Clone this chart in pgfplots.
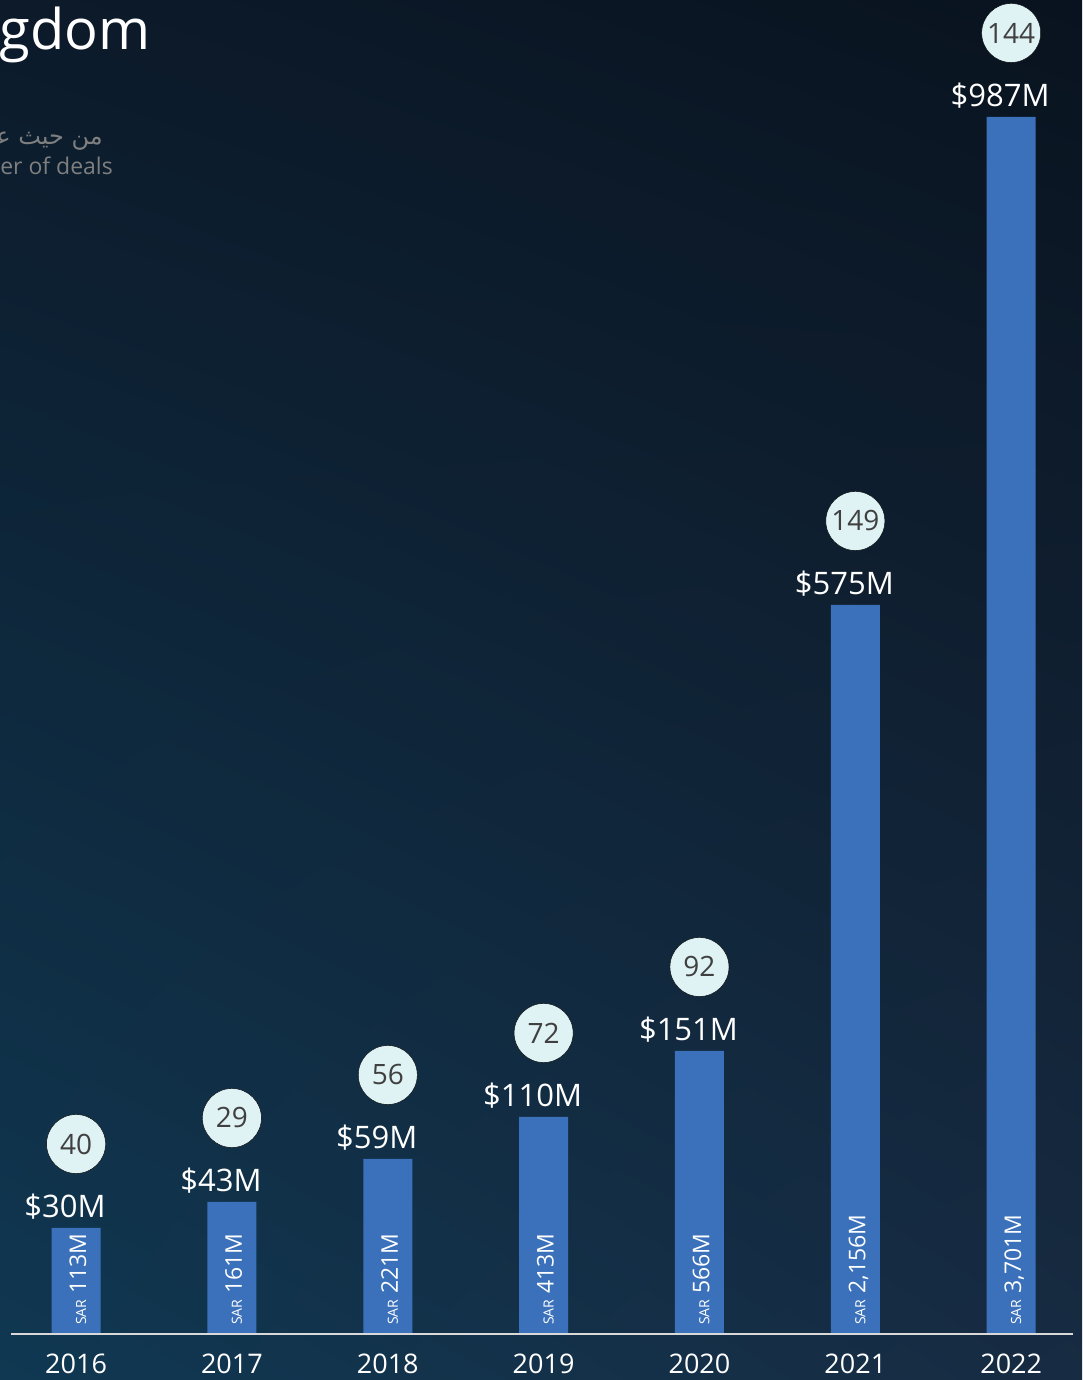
\documentclass[border=0pt]{standalone}
\usepackage{pgfplots}
\pgfplotsset{compat=1.18}
\usepackage{pgfplotstable}
\usetikzlibrary{shadings}
\usepackage{fontspec}
\setmainfont{Open Sans}
\newfontfamily\arabicfont[Script=Arabic]{DejaVu Sans}
\TeXXeTstate=1
\definecolor{barblue}{HTML}{3B71BB}
\definecolor{circ}{HTML}{DFF2F4}
\definecolor{circtext}{HTML}{404040}
\definecolor{textgray}{HTML}{7F7F7F}
\definecolor{linegray}{HTML}{D9D9D9}
\definecolor{bgUL}{HTML}{0C1A2A}
\definecolor{bgUR}{HTML}{09131F}
\definecolor{bgLL}{HTML}{103852}
\definecolor{bgLR}{HTML}{172B42}

\pgfplotstableread{
x h usd sar deals
0 106 30 113M 40
1 132 43 161M 29
2 175 59 221M 56
3 217 110 413M 72
4 283 151 566M 92
5 729 575 2,156M 149
6 1217 987 3,701M 144
}\data

\begin{document}
\begin{tikzpicture}
\shade[upper left=bgUL, upper right=bgUR, lower left=bgLL, lower right=bgLR] (0,-46pt) rectangle (1082pt,1334pt);
\begin{axis}[
  at={(0,0)}, anchor=south west,
  scale only axis, width=1082pt, height=1334pt,
  xmin=-0.488, xmax=6.4542, ymin=0, ymax=1334,
  clip=false,
  hide y axis,
  axis x line*=bottom,
  x axis line style={draw=none},
  xtick={0,1,2,3,4,5,6},
  xticklabels={2016,2017,2018,2019,2020,2021,2022},
  major tick length=0pt,
  xticklabel style={font=\fontsize{27}{27}\selectfont, text=white, anchor=base, yshift=-39pt, inner sep=0pt},
]
\addplot[ybar, bar width=49pt, fill=barblue, draw=none] table[x=x, y=h]{\data};
\addplot[draw=none, mark=none, nodes near coords={\$\pgfplotspointmeta M}, point meta=explicit symbolic,
  nodes near coords style={anchor=base, xshift=-11pt, text=white, font=\fontsize{31}{31}\selectfont, inner sep=0pt}]
  table[x=x, y expr=\thisrow{h}+10, meta=usd]{\data};
\addplot[only marks, mark=*, mark size=29.5pt, mark options={fill=circ, draw=none}, nodes near coords, point meta=explicit symbolic,
  nodes near coords style={anchor=center, text=circtext, font=\fontsize{28}{28}\selectfont, inner sep=0pt}]
  table[x=x, y expr=\thisrow{h}+84, meta=deals]{\data};
\addplot[draw=none, mark=none, nodes near coords={{\fontsize{14}{14}\selectfont SAR}\hspace{6pt}\pgfplotspointmeta}, point meta=explicit symbolic,
  nodes near coords style={xshift=10pt, rotate=90, anchor=base west, inner sep=0pt, text=white, font=\fontsize{23}{23}\selectfont}]
  table[x=x, y expr=9, meta=sar]{\data};
\draw[linegray, line width=1.8pt] (axis cs:-0.4174,0) -- (axis cs:6.3964,0);
\end{axis}
\node[anchor=base east, inner sep=0pt, text=white, font=\fontsize{56}{56}\selectfont] at (151pt,1284pt) {gdom};
\node[anchor=base east, inner sep=0pt, text=textgray, font={\arabicfont\fontsize{24}{24}\selectfont}] at (103pt,1189pt) {\beginR من حيث عـ\endR};
\node[anchor=base east, inner sep=0pt, text=textgray, font=\fontsize{23}{23}\selectfont] at (113pt,1159pt) {er of deals};
\pgfresetboundingbox
\path[use as bounding box] (0,-46pt) rectangle (1082pt,1334pt);
\end{tikzpicture}
\end{document}
